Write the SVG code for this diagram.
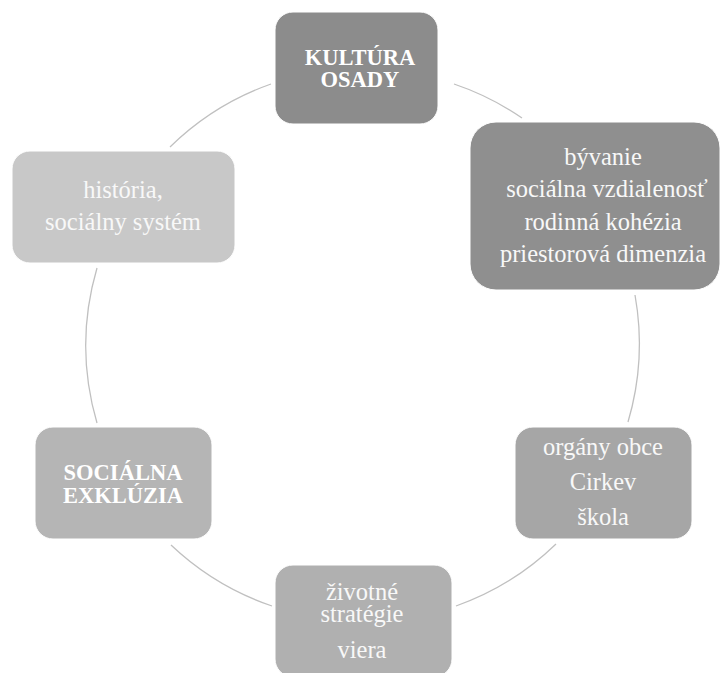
<svg xmlns="http://www.w3.org/2000/svg" width="721" height="673" viewBox="0 0 721 673">
<style>
.arc{fill:none;stroke:#c0c0c0;stroke-width:1.3}
.box{stroke:#ffffff;stroke-width:1}
.b{font-family:"Liberation Serif","Times New Roman",serif;font-weight:bold;font-size:22.5px;fill:#ffffff;text-anchor:middle}
.r{font-family:"Liberation Serif","Times New Roman",serif;font-size:24.5px;fill:#f8f8f8;text-anchor:middle}
</style>
<rect width="721" height="673" fill="#ffffff"/>
<g id="connectors">
<path class="arc" d="M454,84 A276,276 0 0 1 522,118"/>
<path class="arc" d="M635,295 A276,276 0 0 1 628,422"/>
<path class="arc" d="M556,544 A276,276 0 0 1 456,606"/>
<path class="arc" d="M272,606 A276,276 0 0 1 171,545"/>
<path class="arc" d="M97,423 A276,276 0 0 1 97,268"/>
<path class="arc" d="M170,147 A276,276 0 0 1 271,84"/>
</g>
<g id="node-kultura">
<rect class="box" x="275" y="12" width="163" height="112" rx="18" fill="#8c8c8c"/>
<text class="b" x="360" y="65">KULTÚRA</text>
<text class="b" x="360" y="87">OSADY</text>
</g>
<g id="node-byvanie">
<rect class="box" x="470" y="122" width="250" height="168" rx="26" fill="#8f8f8f"/>
<text class="r" x="603" y="165">bývanie</text>
<text class="r" x="607" y="197">sociálna vzdialenosť</text>
<text class="r" x="603" y="230">rodinná kohézia</text>
<text class="r" x="603" y="262">priestorová dimenzia</text>
</g>
<g id="node-organy">
<rect class="box" x="515" y="427" width="177" height="112" rx="18" fill="#a6a6a6"/>
<text class="r" x="603" y="455">orgány obce</text>
<text class="r" x="603" y="490">Cirkev</text>
<text class="r" x="603" y="525">škola</text>
</g>
<g id="node-zivotne">
<rect class="box" x="275" y="565" width="177" height="112" rx="18" fill="#b0b0b0"/>
<text class="r" x="362" y="600">životné</text>
<text class="r" x="362" y="622">stratégie</text>
<text class="r" x="362" y="658">viera</text>
</g>
<g id="node-socialna">
<rect class="box" x="35" y="427" width="177" height="112" rx="18" fill="#b5b5b5"/>
<text class="b" x="123" y="480">SOCIÁLNA</text>
<text class="b" x="123" y="503">EXKLÚZIA</text>
</g>
<g id="node-historia">
<rect class="box" x="12" y="151" width="223" height="112" rx="18" fill="#c8c8c8"/>
<text class="r" x="123" y="198">história,</text>
<text class="r" x="123" y="230">sociálny systém</text>
</g>
</svg>
